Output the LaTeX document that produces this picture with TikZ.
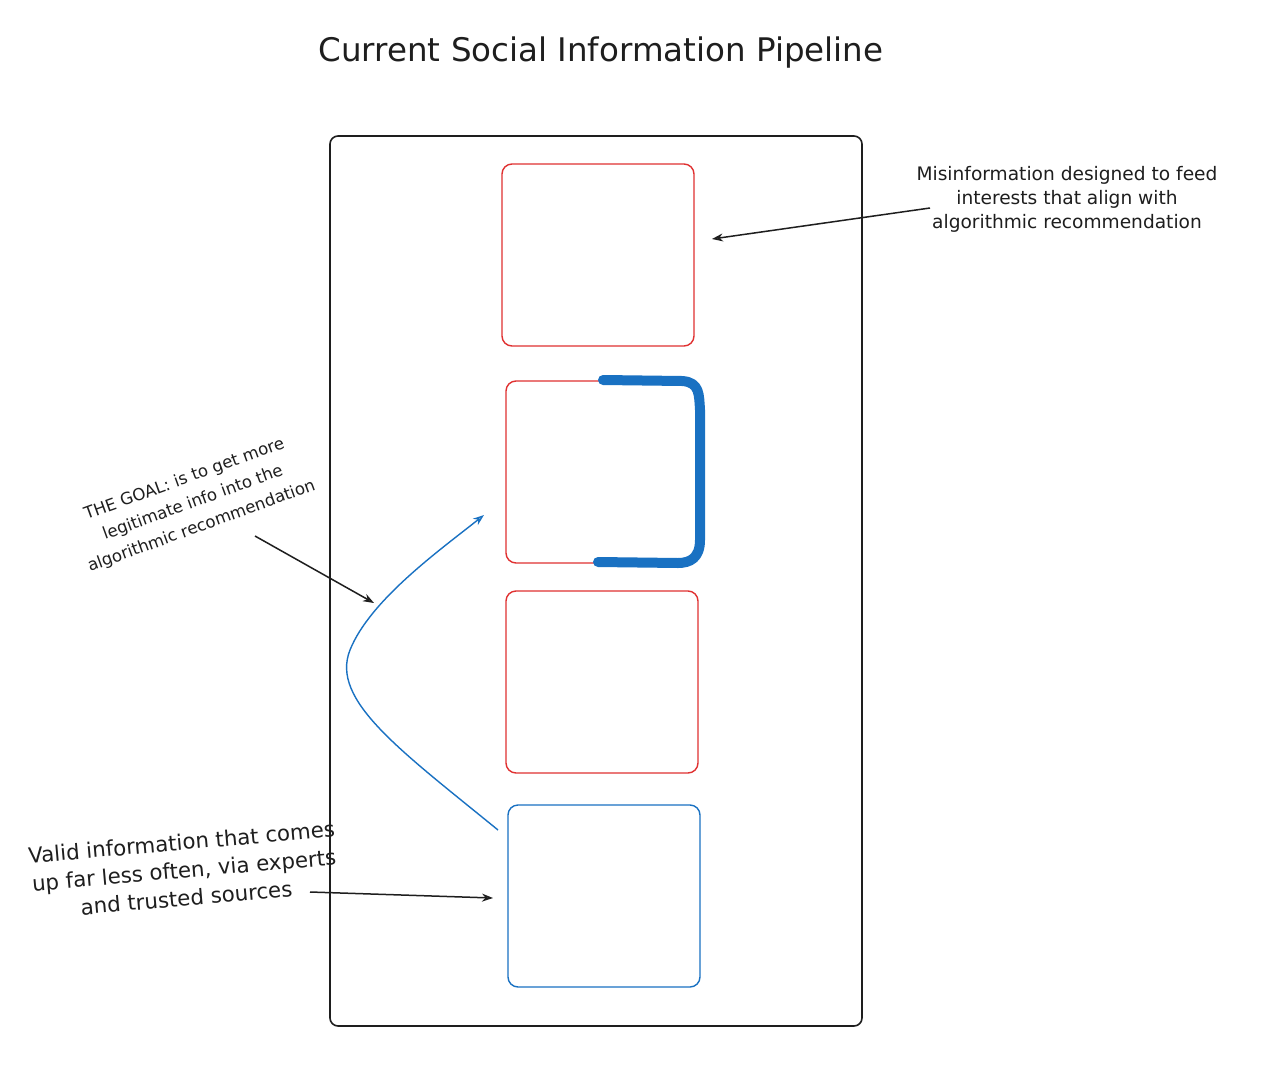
\documentclass[tikz,border=0pt]{standalone}
\usepackage{fontspec}
\setmainfont{DejaVu Sans}
\usetikzlibrary{arrows.meta}
\definecolor{xred}{HTML}{E03131}
\definecolor{xblue}{HTML}{1971C2}
\definecolor{xink}{HTML}{1E1E1E}
\begin{document}
\begin{tikzpicture}[x=1pt,y=-1pt,
  frame/.style={draw=xink,line width=1.6pt,rounded corners=8pt},
  redbox/.style={draw=xred,line width=1.4pt,rounded corners=10pt},
  bluebox/.style={draw=xblue,line width=1.4pt,rounded corners=10pt},
  note/.style={align=center,text=xink,inner sep=0pt},
  pointer/.style={draw=xink,line width=1.5pt,-{Stealth[length=11pt,width=8pt,open]}},
  flow/.style={draw=xblue,line width=1.4pt,-{Stealth[length=11pt,width=8pt,open]}}]
\useasboundingbox (0,0) rectangle (1266,1092);
\fill[white] (0,0) rectangle (1266,1092);
\node[text=xink,font=\fontsize{32.5}{38}\selectfont,inner sep=0pt] (title) at (601,53) {Current Social Information Pipeline};
\draw[frame] (330,136) rectangle (862,1026);
\node[redbox,minimum width=192pt,minimum height=182pt,inner sep=0pt] (r1) at (598,255) {};
\node[redbox,minimum width=194pt,minimum height=182pt,inner sep=0pt] (r2) at (603,472) {};
\node[redbox,minimum width=192pt,minimum height=182pt,inner sep=0pt] (r3) at (602,682) {};
\node[bluebox,minimum width=192pt,minimum height=182pt,inner sep=0pt] (b1) at (604,896) {};
% thick bracket
\draw[xblue,line width=10pt,line cap=round,line join=round] (603,380) -- (682,381) .. controls (700,382) and (699,395) .. (700,410) -- (700,540) .. controls (700,558) and (690,563) .. (678,563) -- (598,562);
% notes
\node[note,font=\fontsize{18.6}{24}\selectfont] (n1) at (1067,199) {Misinformation designed to feed\\interests that align with\\algorithmic recommendation};
\node[note,rotate=20,font=\fontsize{16.6}{25}\selectfont] (n2) at (193,503) {THE GOAL: is to get more\\legitimate info into the\\algorithmic recommendation};
\node[note,rotate=5,font=\fontsize{21.3}{28}\selectfont] (n3) at (184,870) {Valid information that comes\\up far less often, via experts\\and trusted sources};
\coordinate (a1s) at (930,208);
\coordinate (a1e) at (712,239);
\draw[pointer] (a1s) -- (a1e);
\coordinate (a2s) at (255,536);
\coordinate (a2e) at (374,603);
\draw[pointer] (a2s) -- (a2e);
\coordinate (a3s) at (310,892);
\coordinate (a3e) at (493,898);
\draw[pointer] (a3s) -- (a3e);
% curve
\coordinate (cs) at (498,830);
\coordinate (ce) at (484,515);
\draw[flow] (cs) .. controls (400,750) and (330,700) .. (350,650) .. controls (370,600) and (440,550) .. (ce);
\end{tikzpicture}
\end{document}
